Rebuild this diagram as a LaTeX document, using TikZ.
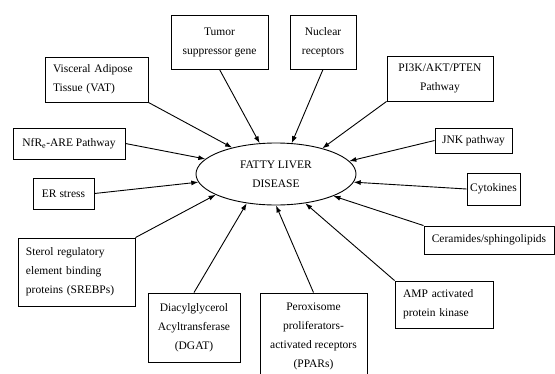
\documentclass[tikz,border=0pt]{standalone}
\usepackage{fontspec}
\setmainfont{Liberation Serif}
\usetikzlibrary{arrows.meta,shapes.geometric}

\tikzset{
  factor/.style={draw, line width=0.9pt, align=center, inner xsep=2pt, inner ysep=1pt,
    font=\fontsize{11.5}{19}\selectfont},
  factorl/.style={factor, align=left, inner xsep=8pt},
  disease/.style={draw, ellipse, line width=0.9pt, minimum width=160pt, minimum height=62pt,
    inner sep=0pt, align=center, font=\fontsize{11.5}{19}\selectfont},
  cause/.style={-{Latex[length=7pt,width=5pt]}, line width=0.9pt}
}

\begin{document}
\begin{tikzpicture}[x=1pt,y=-1pt]
\useasboundingbox (0,0) rectangle (555,373);

   \node[disease] (fld) at (276,174) {FATTY LIVER\\DISEASE};

   \node[factorl, text width=87pt, minimum height=45pt] (vat) at (96.5,79.5) {Visceral Adipose\\Tissue (VAT)};
   \node[factor, minimum width=97pt, minimum height=54pt] (tsg) at (219.5,42) {Tumor\\suppressor gene};
   \node[factor, minimum width=66pt, minimum height=54pt] (nuc) at (323,42) {Nuclear\\receptors};
   \node[factor, minimum width=106pt, minimum height=45pt] (pi3k) at (440,78.5) {PI3K/AKT/PTEN\\Pathway};
   \node[factor, minimum width=112pt, minimum height=31pt] (nrf) at (69,143.5) {NfR\textsubscript{e}-ARE Pathway};
   \node[factor, minimum width=77pt, minimum height=25pt] (jnk) at (473.5,140.5) {JNK pathway};
   \node[factor, minimum width=61pt, minimum height=31pt] (er) at (63.5,193.5) {ER stress};
   \node[factor, minimum width=53pt, minimum height=32pt] (cyt) at (493.5,189) {Cytokines};
   \node[factor, minimum width=130pt, minimum height=28pt] (cer) at (489,240) {Ceramides/sphingolipids};
   \node[factorl, text width=101pt, minimum height=68pt] (srebp) at (76.5,272) {Sterol regulatory\\element binding\\proteins (SREBPs)};
   \node[factorl, text width=82pt, minimum height=47pt] (amp) at (444,304.5) {AMP activated\\protein kinase};
   \node[factor, minimum width=92pt, minimum height=69pt] (dgat) at (194,327.5) {Diacylglycerol\\Acyltransferase\\(DGAT)};
   \node[factor, minimum width=107pt, minimum height=86pt] (ppar) at (313.5,336) {Peroxisome\\proliferators-\\activated receptors\\(PPARs)};

    \path[cause]
    (vat.south east)  edge (fld.149)
    (tsg.south)       edge (fld.118)
    (nuc.south)       edge (fld.63)
    (pi3k.south west) edge (fld.29)
    (nrf.east)        edge (fld.168)
    (jnk.west)        edge (fld.10)
    (er.east)         edge (fld.186)
    (cyt.west)        edge (fld.-6)
    (cer.north west)  edge (fld.-21)
    (srebp.north east) edge (fld.199)
    (amp.north west)  edge (fld.-45)
    (dgat.north)      edge (fld.-135)
    (ppar.north)      edge (fld.-90);

\end{tikzpicture}
\end{document}
